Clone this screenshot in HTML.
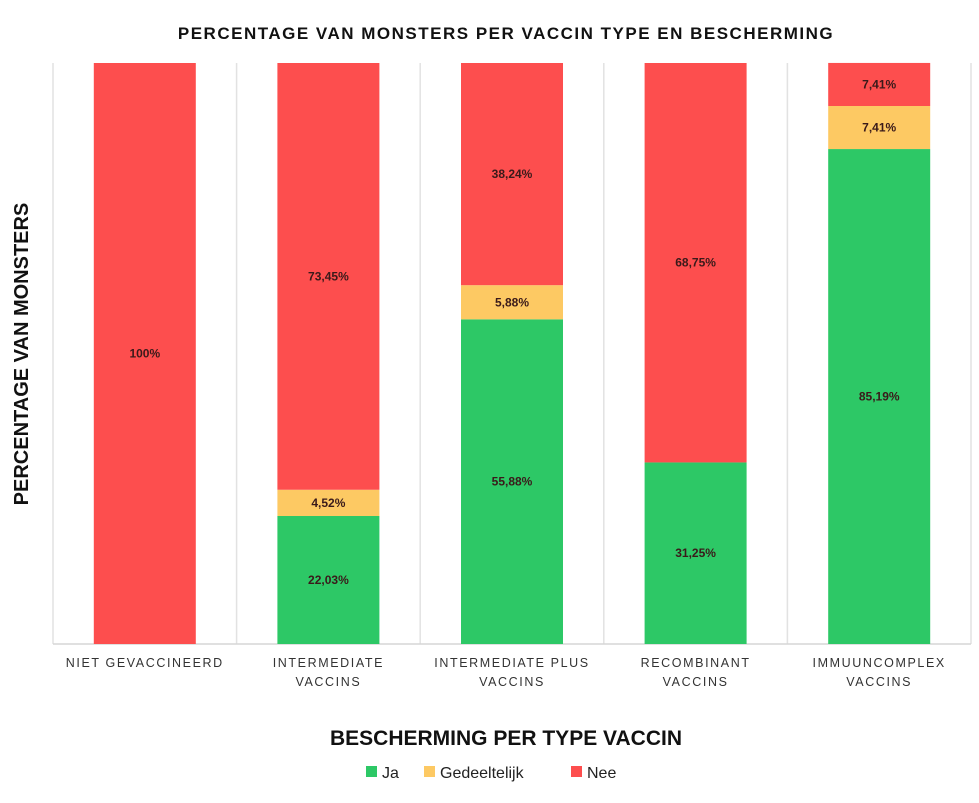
<!DOCTYPE html>
<html><head><meta charset="utf-8"><style>
body{margin:0;background:#fff;}
svg{display:block;font-family:"Liberation Sans",sans-serif;}
</style></head><body>
<svg id="chart" width="979" height="803">
<text x="506" y="39" text-anchor="middle" font-size="17" font-weight="bold" letter-spacing="1.5" fill="#111">PERCENTAGE VAN MONSTERS PER VACCIN TYPE EN BESCHERMING</text>
<text transform="translate(28,354) rotate(-90)" text-anchor="middle" font-size="20" font-weight="bold" fill="#111">PERCENTAGE VAN MONSTERS</text>
<text x="506" y="745" text-anchor="middle" font-size="21" font-weight="bold" fill="#111">BESCHERMING PER TYPE VACCIN</text>
<g id="grid"></g><g id="bars"></g><g id="xlabels"></g>
<g>
<rect x="366" y="766" width="11" height="11" fill="#2dc866"/>
<text x="382" y="778" font-size="16" fill="#222">Ja</text>
<rect x="424" y="766" width="11" height="11" fill="#fdc963"/>
<text x="440" y="778" font-size="16" fill="#222">Gedeeltelijk</text>
<rect x="571" y="766" width="11" height="11" fill="#fd4e4e"/>
<text x="587" y="778" font-size="16" fill="#222">Nee</text>
</g>
</svg>
<script>
const categories=[["NIET GEVACCINEERD"],["INTERMEDIATE","VACCINS"],["INTERMEDIATE PLUS","VACCINS"],["RECOMBINANT","VACCINS"],["IMMUUNCOMPLEX","VACCINS"]];
const ja=[0,22.03,55.88,31.25,85.19];
const gedeeltelijk=[0,4.52,5.88,0,7.41];
const nee=[100,73.45,38.24,68.75,7.41];
const seriesNames=["ja","gedeeltelijk","nee"];
const seriesColors=["#2dc866","#fdc963","#fd4e4e"];
const NS="http://www.w3.org/2000/svg";
const L=53,R=971,T=63,B=644;
const bandW=(R-L)/categories.length;
const xBand=i=>L+i*bandW;
const yScale=v=>B-(v/100)*(B-T);
const fmt=v=>v===100?"100%":v.toFixed(2).replace(".",",")+"%";
const grid=document.getElementById("grid");
for(let i=0;i<=categories.length;i++){
  const l=document.createElementNS(NS,"line");
  
  
  const x=xBand(i);
  l.setAttribute("x1",x);l.setAttribute("x2",x);l.setAttribute("y1",T);l.setAttribute("y2",B);
  l.setAttribute("stroke","#e2e2e2");l.setAttribute("stroke-width","1.5");
  grid.appendChild(l);
}
const base=document.createElementNS(NS,"line");


base.setAttribute("x1",L);base.setAttribute("x2",R);base.setAttribute("y1",B);base.setAttribute("y2",B);
base.setAttribute("stroke","#d6d6d6");base.setAttribute("stroke-width","1.5");
grid.appendChild(base);
const bars=document.getElementById("bars");
const bw=102;
categories.forEach((c,i)=>{
  const vals=[ja[i],gedeeltelijk[i],nee[i]];
  let cum=0;
  const x=xBand(i)+(bandW-bw)/2;
  vals.forEach((v,s)=>{
    if(v<=0)return;
    const y1=yScale(cum+v),y0=yScale(cum);
    const r=document.createElementNS(NS,"rect");
    
    
    r.setAttribute("x",x);r.setAttribute("y",y1);r.setAttribute("width",bw);r.setAttribute("height",y0-y1);
    r.setAttribute("fill",seriesColors[s]);
    bars.appendChild(r);
    const t=document.createElementNS(NS,"text");
    
    
    t.setAttribute("x",x+bw/2);t.setAttribute("y",(y0+y1)/2+4);
    t.setAttribute("text-anchor","middle");t.setAttribute("font-size","12");t.setAttribute("font-weight","bold");t.setAttribute("fill","#3a1a1a");
    t.textContent=fmt(v);
    bars.appendChild(t);
    cum+=v;
  });
  const xl=document.getElementById("xlabels");
  c.forEach((line,k)=>{
    const t=document.createElementNS(NS,"text");
    
    
    t.setAttribute("x",xBand(i)+bandW/2);t.setAttribute("y",667+k*19);
    t.setAttribute("text-anchor","middle");t.setAttribute("font-size","12.5");t.setAttribute("letter-spacing","1.6");t.setAttribute("fill","#333");
    t.textContent=line;
    xl.appendChild(t);
  });
});
</script>
</body></html>
